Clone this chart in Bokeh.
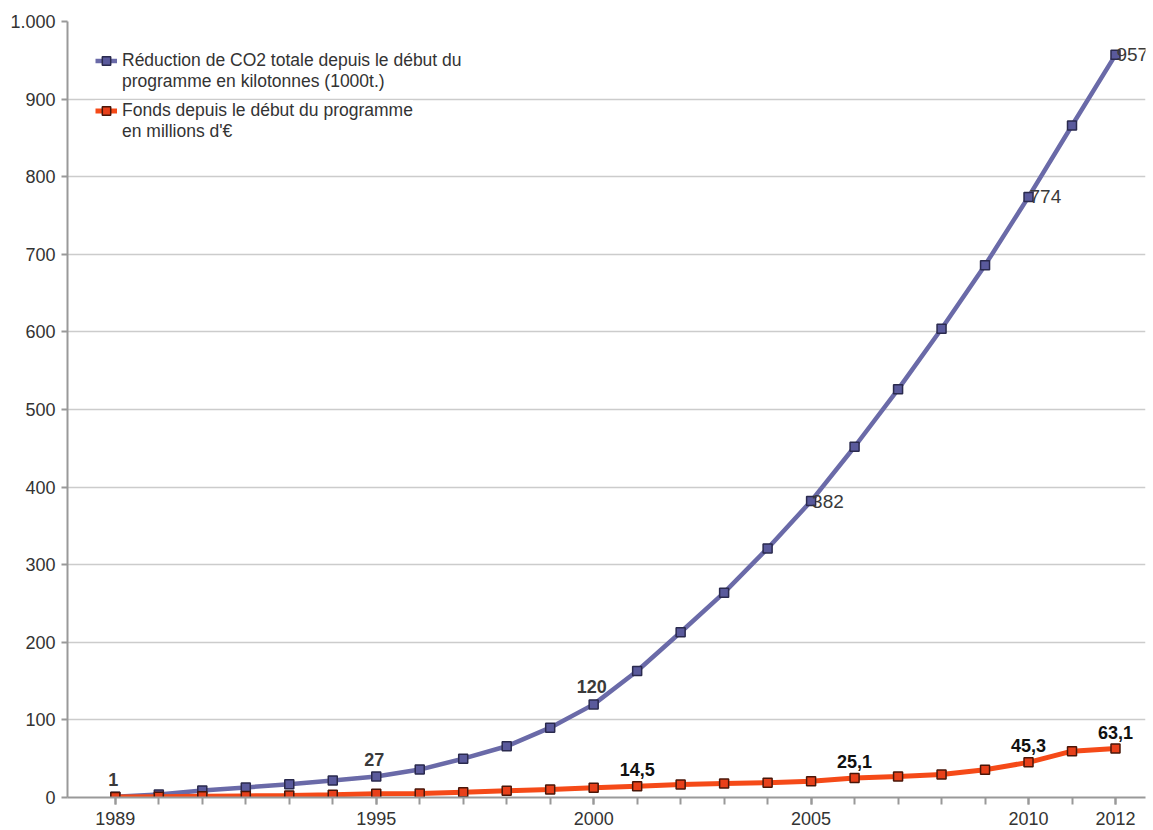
from bokeh.plotting import figure
from bokeh.models import (ColumnDataSource, LabelSet, FixedTicker, Legend, LegendItem,
                          Range1d)
from bokeh.core.properties import value
from bokeh.embed import file_html
from bokeh.resources import INLINE

years = list(range(1989, 2013))
co2 = [1, 4, 9, 13, 17, 22, 27, 36, 50, 66, 90, 120, 163, 213, 264, 321, 382,
       452, 526, 604, 686, 774, 866, 957]
funds = [0.5, 1, 1.5, 2, 2.5, 3.4, 4.7, 5.1, 6.9, 8.6, 10.3, 12.5, 14.5, 16.7,
         18, 19, 21, 25.1, 27, 29.6, 35.7, 45.3, 59.7, 63.1]

co2_label_years_top = [1989, 1995, 2000]
co2_label_top = ["1", "27", "120"]
co2_label_years_right = [2005, 2010, 2012]
co2_label_right = ["382", "774", "957"]
fund_label_years = [2001, 2006, 2010, 2012]
fund_label = ["14,5", "25,1", "45,3", "63,1"]

x_tick_labels = [1989, 1995, 2000, 2005, 2010, 2012]
y_ticks = list(range(0, 1001, 100))

name_co2 = ["Réduction de CO2 totale depuis le début du",
            "programme en kilotonnes (1000t.)"]
name_funds = ["Fonds depuis le début du programme", "en millions d'€"]

FONT = "Liberation Sans"
BLUE = "#6A6AA8"
BLUE_M = "#5A5A9C"
RED = "#F54A18"
RED_M = "#E8401A"

p = figure(width=1153, height=828, output_backend="svg", toolbar_location=None,
           x_range=Range1d(1987.9, 2012.69), y_range=Range1d(0, 1000),
           min_border_left=67, min_border_top=21, min_border_bottom=31,
           min_border_right=8)
p.outline_line_color = None
p.background_fill_color = "white"
p.border_fill_color = "white"

src = ColumnDataSource(dict(x=years, co2=co2, funds=funds))

r1l = p.line("x", "co2", source=src, line_color=BLUE, line_width=4.5)
r1m = p.scatter("x", "co2", source=src, marker="square", size=9,
                fill_color=BLUE_M, line_color="#2A2A4E", line_width=1.5)
r2l = p.line("x", "funds", source=src, line_color=RED, line_width=5)
r2m = p.scatter("x", "funds", source=src, marker="square", size=9,
                fill_color=RED_M, line_color="#4A1608", line_width=1.5)
dummy = p.line("x", "co2", source=src, line_alpha=0)

# axes
p.xgrid.grid_line_color = None
p.ygrid.grid_line_color = "#CCCCCC"
p.ygrid.grid_line_width = 1.5
p.yaxis.ticker = FixedTicker(ticks=y_ticks)
p.yaxis.major_label_overrides = {1000: "1.000"}
p.xaxis.ticker = FixedTicker(ticks=x_tick_labels, minor_ticks=years)
p.xaxis.major_label_overrides = {y: str(y) for y in x_tick_labels}

for ax in (p.xaxis, p.yaxis):
    ax.axis_line_color = "#999999"
    ax.axis_line_width = 2
    ax.major_tick_line_color = "#999999"
    ax.minor_tick_line_color = "#999999"
    ax.major_tick_line_width = 2
    ax.minor_tick_line_width = 2
    ax.major_label_text_font = FONT
    ax.major_label_text_font_size = "18px"
    ax.major_label_text_color = "#333333"

p.xaxis.major_tick_out = 7
p.xaxis.major_tick_in = 0
p.xaxis.minor_tick_out = 7
p.xaxis.minor_tick_in = 0
p.xaxis.major_label_standoff = 7
p.yaxis.major_tick_out = 6
p.yaxis.major_tick_in = 0
p.yaxis.minor_tick_line_color = None
p.yaxis.major_label_standoff = 6

# value labels
s_top = ColumnDataSource(dict(x=co2_label_years_top,
                              y=[co2[years.index(v)] for v in co2_label_years_top],
                              t=co2_label_top))
p.add_layout(LabelSet(x="x", y="y", text="t", source=s_top, text_align="center",
                      text_baseline="bottom", y_offset=11, x_offset=-2,
                      text_font=value(FONT),
                      text_font_size="18px", text_font_style="bold",
                      text_color="#3A3A3A"))
s_right = ColumnDataSource(dict(x=co2_label_years_right,
                                y=[co2[years.index(v)] for v in co2_label_years_right],
                                t=co2_label_right))
p.add_layout(LabelSet(x="x", y="y", text="t", source=s_right, text_align="left",
                      text_baseline="middle", x_offset=1, text_font=value(FONT),
                      text_font_size="19px", text_color="#3A3A3A"))
s_f = ColumnDataSource(dict(x=fund_label_years,
                            y=[funds[years.index(v)] for v in fund_label_years],
                            t=fund_label))
p.add_layout(LabelSet(x="x", y="y", text="t", source=s_f, text_align="center",
                      text_baseline="bottom", y_offset=10, text_font=value(FONT),
                      text_font_size="18px", text_font_style="bold",
                      text_color="#111111"))


def make_legend(items, loc, pad):
    lg = Legend(items=items, location=loc)
    lg.padding = pad
    lg.margin = 0
    lg.spacing = 0
    lg.label_text_font = FONT
    lg.label_text_font_size = "17.5px"
    lg.label_text_color = "#333333"
    lg.glyph_width = 22
    lg.glyph_height = 21
    lg.label_height = 21
    lg.label_standoff = 5
    lg.border_line_color = None
    lg.background_fill_color = "white"
    lg.background_fill_alpha = 1.0
    return lg


legA = make_legend([LegendItem(label=name_co2[0], renderers=[r1l, r1m]),
                    LegendItem(label=name_co2[1], renderers=[dummy])],
                   (28, 705), 11)
legB = make_legend([LegendItem(label=name_funds[0], renderers=[r2l, r2m]),
                    LegendItem(label=name_funds[1], renderers=[dummy])],
                   (28, 655), 6)
p.add_layout(legA)
p.add_layout(legB)

open("out.html", "w").write(file_html(p, INLINE))
